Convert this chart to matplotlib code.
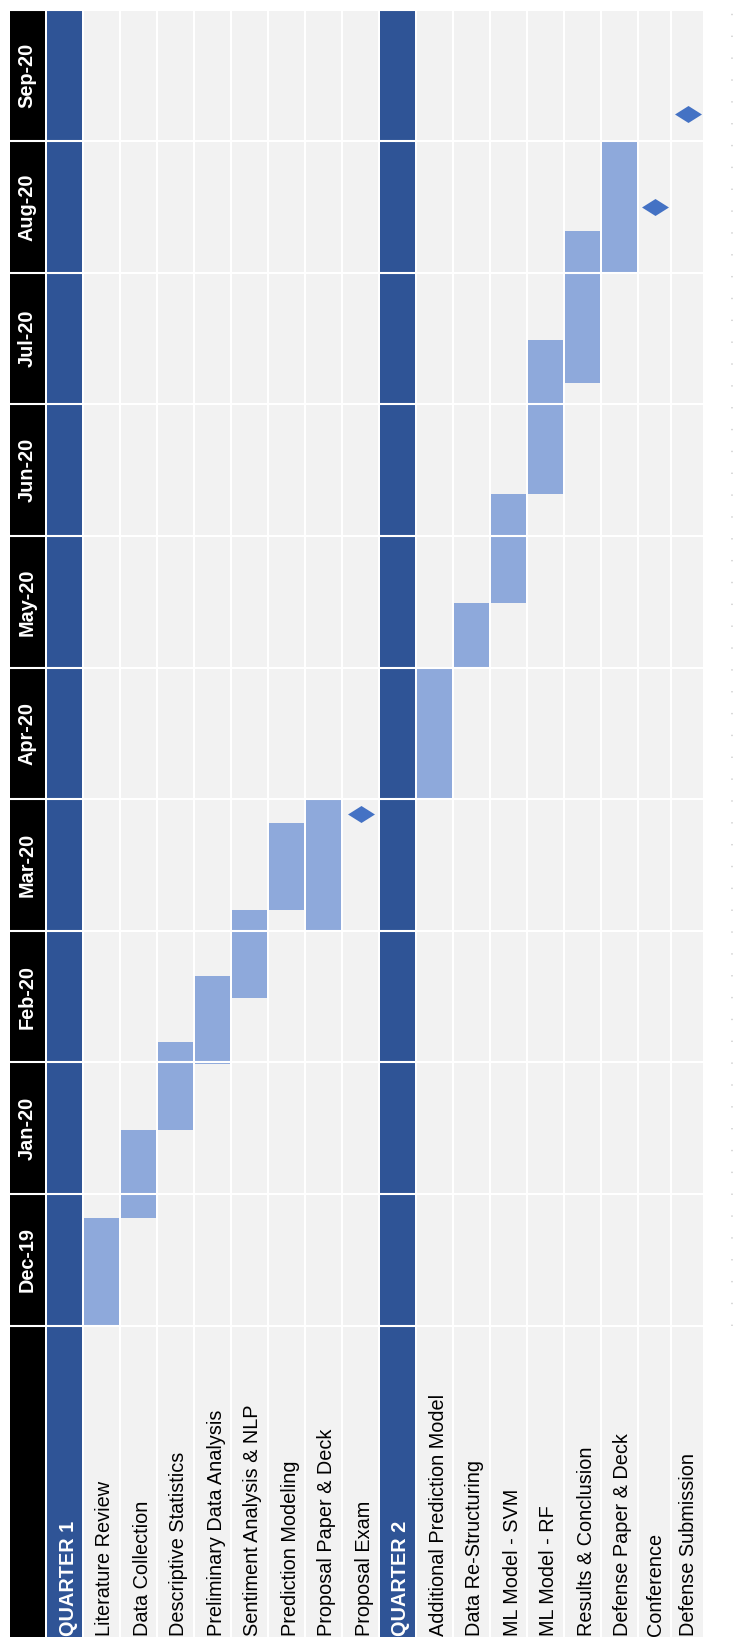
#!/usr/bin/env python3
"""Thesis timeline Gantt chart, laid out sideways (months run bottom to top)."""

import matplotlib

matplotlib.use("Agg")
import matplotlib.pyplot as plt

plt.rcParams["font.family"] = ["Liberation Sans", "DejaVu Sans"]

# month rows, from the first (bottom) to the last (top)
months = ["Dec-19", "Jan-20", "Feb-20", "Mar-20", "Apr-20", "May-20",
          "Jun-20", "Jul-20", "Aug-20", "Sep-20"]

# header columns after the month column
columns = [
    "QUARTER 1", "Literature Review", "Data Collection", "Descriptive Statistics",
    "Preliminary Data Analysis", "Sentiment Analysis & NLP", "Prediction Modeling",
    "Proposal Paper & Deck", "Proposal Exam",
    "QUARTER 2", "Additional Prediction Model", "Data Re-Structuring",
    "ML Model - SVM", "ML Model - RF", "Results & Conclusion",
    "Defense Paper & Deck", "Conference", "Defense Submission",
]
quarters = ["QUARTER 1", "QUARTER 2"]

# task spans, in months counted from 1 Dec 2019
bar_tasks = [
    "Literature Review", "Data Collection", "Descriptive Statistics",
    "Preliminary Data Analysis", "Sentiment Analysis & NLP", "Prediction Modeling",
    "Proposal Paper & Deck", "Additional Prediction Model", "Data Re-Structuring",
    "ML Model - SVM", "ML Model - RF", "Results & Conclusion", "Defense Paper & Deck",
]
bar_start = [0.0, 0.82, 1.49, 1.99, 2.49, 3.16, 3.0, 4.0, 5.0, 5.49, 6.32, 7.16, 8.0]
bar_end = [0.82, 1.49, 2.155, 2.655, 3.16, 3.82, 4.0, 5.0, 5.49, 6.32, 7.49, 8.32, 9.0]

# one-day milestones
milestone_tasks = ["Proposal Exam", "Conference", "Defense Submission"]
milestone_at = [3.89, 8.50, 9.21]

DARK_BLUE = "#2F5496"
LIGHT_BLUE = "#8EA9DB"
MARKER_BLUE = "#4472C4"
CELL_GRAY = "#F2F2F2"

W, H = 734, 1637
ROW_PX = 131.6          # pixel height of one month row
BASE_PX = 1325.6        # pixel row of the Dec-19 bottom edge

# column geometry in pixels: month column first, then every header column
widths = [35] * 17 + [31, 31]
lefts = []
x = 10
for w in widths:
    lefts.append(x)
    x += w + 2
centers = [l + w / 2 for l, w in zip(lefts, widths)]

fig = plt.figure(figsize=(W / 100, H / 100), dpi=100)
ax = fig.add_axes([0, 0, 1, 1])
ax.set_xlim(0, W)
y_bottom = (BASE_PX - H) / ROW_PX
y_top = BASE_PX / ROW_PX
ax.set_ylim(y_bottom, y_top)
ax.axis("off")

n_months = len(months)

# background cells: month column black, quarter columns dark blue, tasks gray
col_colors = ["black"] + [DARK_BLUE if c in quarters else CELL_GRAY for c in columns]
for cx, w, c in zip(centers, widths, col_colors):
    ax.bar(cx, n_months - y_bottom, bottom=y_bottom, width=w, color=c,
           linewidth=0, zorder=1)

# task bars
col_index = {name: i + 1 for i, name in enumerate(columns)}
bx = [centers[col_index[t]] for t in bar_tasks]
bw = [widths[col_index[t]] for t in bar_tasks]
ax.bar(bx, [e - s for s, e in zip(bar_start, bar_end)], bottom=bar_start,
       width=bw, color=LIGHT_BLUE, linewidth=0, zorder=2)

# white separators between the month rows and above the header
for m in range(n_months + 1):
    ax.plot([lefts[0], lefts[-1] + widths[-1]], [m, m], color="white",
            lw=1.5, solid_capstyle="butt", zorder=3)

# milestones as flat diamonds
diamond = [(-1, 0), (0, 0.63), (1, 0), (0, -0.63), (-1, 0)]
mx = [centers[col_index[t]] for t in milestone_tasks]
ax.scatter(mx, milestone_at, marker=diamond, s=19.4 ** 2, color=MARKER_BLUE,
           linewidths=0, zorder=4)

# month labels
for m, label in enumerate(months):
    ax.text(centers[0] - 0.5, m + 0.5, label, rotation=90, rotation_mode="anchor",
            ha="center", va="center", color="white", fontsize=14.3,
            fontweight="bold", zorder=5)

# header labels, reading upwards from the bottom edge
y_text = (BASE_PX - (H - 1.5)) / ROW_PX
for i, name in enumerate(columns):
    k = i + 1
    is_q = name in quarters
    ax.text(lefts[k] + widths[k] - 8.5, y_text, name, rotation=90,
            rotation_mode="anchor", ha="left", va="baseline",
            color="white" if is_q else "black", fontsize=14.3,
            fontweight="bold" if is_q else "normal", zorder=5)

# faint dotted rule on the right edge
ax.plot([732, 732], [0, y_top], color="#cfcfcf", lw=1.1,
        linestyle=(0, (0.9, 13.4)), zorder=1)

fig.savefig("out.png", dpi=100, facecolor="white")
plt.close(fig)
